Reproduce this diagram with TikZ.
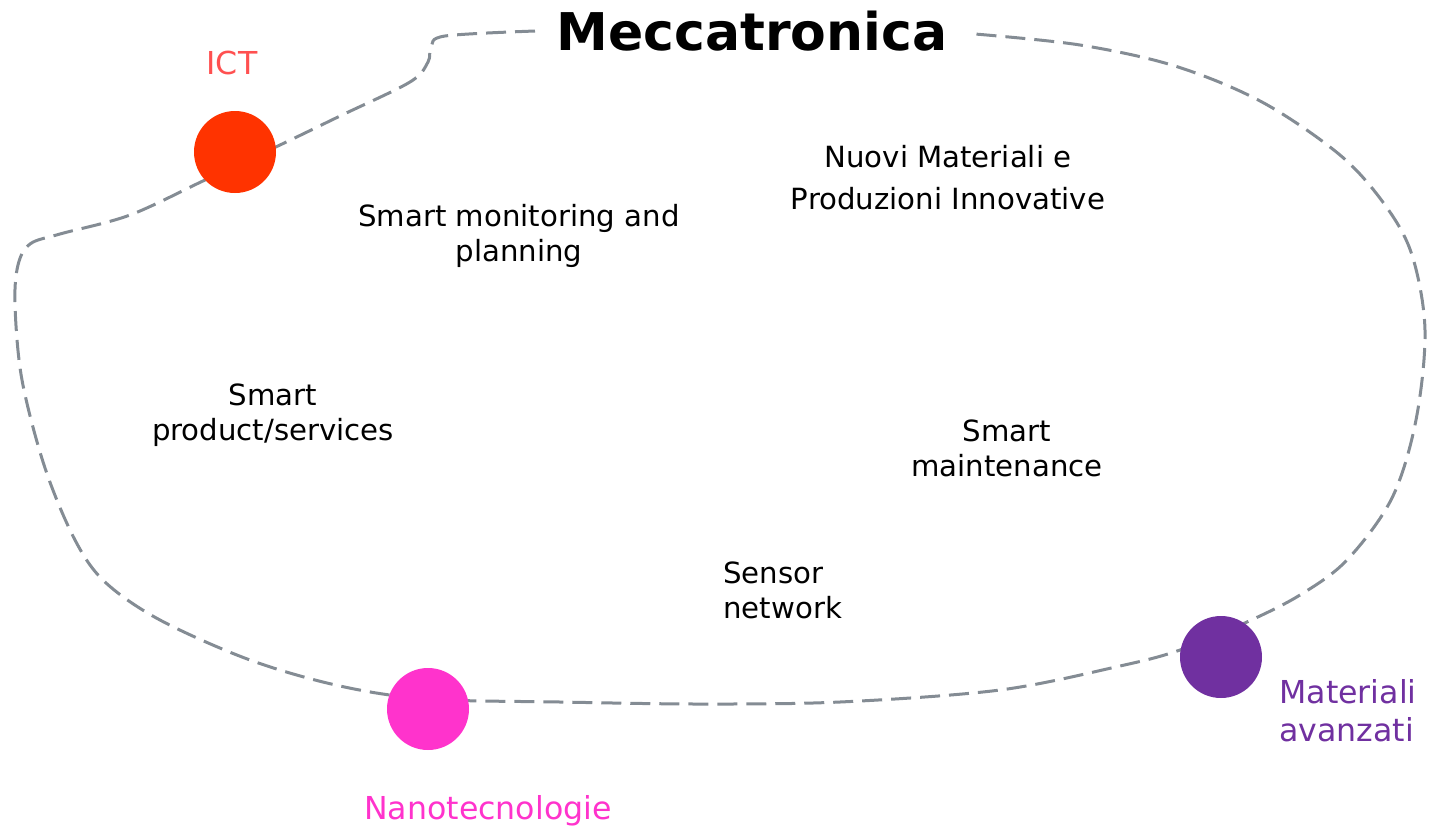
\documentclass[tikz,border=0pt]{standalone}
\usepackage{fontspec}
\setmainfont{DejaVu Sans}
\definecolor{ictred}{HTML}{FF3300}
\definecolor{ictlbl}{HTML}{FF5050}
\definecolor{nanopink}{HTML}{FF33CC}
\definecolor{matpurple}{HTML}{7030A0}
\definecolor{pathgray}{HTML}{848C94}
\tikzset{
  dot/.style={circle, minimum size=41pt, inner sep=0pt},
  body/.style={font=\fontsize{14.6pt}{17.5pt}\selectfont, align=center, inner sep=0pt},
  lbl/.style={font=\fontsize{15.8pt}{19pt}\selectfont, inner sep=0pt},
  loop/.style={draw=pathgray, line width=1.5pt, dash pattern=on 10pt off 4.5pt}
}
\begin{document}
\begin{tikzpicture}[x=0.5pt,y=-0.5pt]
\useasboundingbox (0,0) rectangle (1432,832);
\node[font=\fontsize{26pt}{30pt}\selectfont\bfseries, inner sep=0pt] (title) at (752,31) {Meccatronica};
\coordinate (ts) at (535,31);
\coordinate (te) at (975,34);
\draw[loop] plot[smooth, tension=0.55] coordinates {
 (ts) (445,36) (431,47) (428,62) (410,82) (340,116) (280,145) (205,180) (130,215)
 (60,234) (30,244) (18,265) (15,305) (22,380) (45,468) (75,540) (105,582)
 (160,620) (250,660) (340,686) (428,699) (560,702) (700,704) (840,702)
 (1000,690) (1120,666) (1180,650) (1247,622) (1300,595) (1347,560) (1392,498) (1416,420)
 (1425,330) (1412,255) (1385,205) (1340,155) (1262,102) (1175,66) (1080,45) (te)};
\node[dot, fill=ictred] (ict) at (235,152) {};
\node[dot, fill=nanopink] (nano) at (428,709) {};
\node[dot, fill=matpurple] (mat) at (1221,657) {};
\node[lbl, text=ictlbl] (ictl) at (232,63) {ICT};
\node[lbl, text=nanopink] (nanol) at (488,811) {Nanotecnologie};
\node[lbl, text=matpurple, align=left, anchor=west] (matl) at (1279,711) {Materiali\\avanzati};
\node[body] (smp) at (519,236) {Smart monitoring and\\planning};
\node[body, font=\fontsize{14.6pt}{21pt}\selectfont] (nmp) at (948,178) {Nuovi Materiali e\\Produzioni Innovative};
\node[body] (sps) at (273,415) {Smart\\product/services};
\node[body] (smn) at (1007,448) {Smart\\maintenance};
\node[body, align=left, anchor=west] (sn) at (723,590) {Sensor\\network};
\end{tikzpicture}
\end{document}
